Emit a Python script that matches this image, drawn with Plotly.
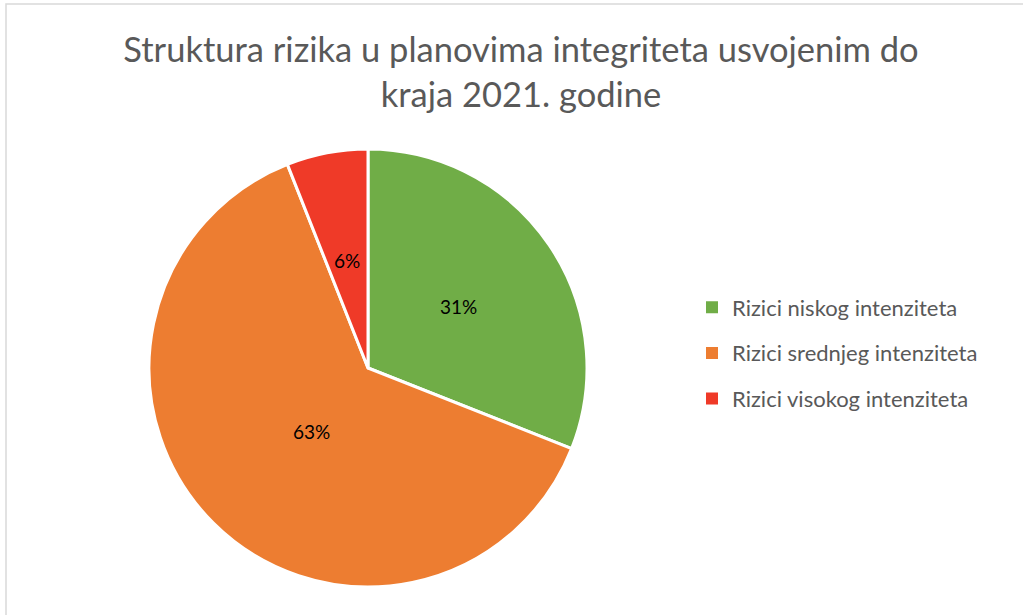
import math
import plotly.graph_objects as go

labels = ["Rizici niskog intenziteta", "Rizici srednjeg intenziteta", "Rizici visokog intenziteta"]
values = [31, 63, 6]
colors = ["#70AD47", "#ED7D31", "#EF3A28"]

W, H = 1023, 615
FONT = "Lato"


def px(x):
    return x / W


def py(y):
    return 1 - y / H


# pie placement (pixels of the reference)
cx, cy, r = 368, 368, 219

fig = go.Figure()

fig.add_trace(go.Pie(
    labels=labels,
    values=values,
    sort=False,
    direction="clockwise",
    rotation=0,
    marker=dict(colors=colors, line=dict(color="white", width=3)),
    textinfo="none",
    domain=dict(x=[px(cx - r), px(cx + r)], y=[py(cy + r), py(cy - r)]),
    showlegend=False,
    hoverinfo="label+percent",
))

# percentage labels at half radius, as the original places them
total = sum(values)
start = 0
annotations = []
for v in values:
    mid = (start + v / 2) / total * 2 * math.pi
    start += v
    annotations.append(dict(
        x=px(cx + 0.5 * r * math.sin(mid)), y=py(cy - 0.5 * r * math.cos(mid)),
        xref="paper", yref="paper", showarrow=False,
        text=f"{round(v / total * 100)}%",
        font=dict(family=FONT, size=19, color="black"),
    ))

# legend entries (dummy traces so the item spacing can be set)
for i, (lab, col) in enumerate(zip(labels, colors)):
    fig.add_trace(go.Scatter(
        x=[None], y=[None], mode="markers", name=lab,
        marker=dict(symbol="square", size=9, color=col),
        legendgroup=f"g{i}", showlegend=True,
    ))

fig.update_layout(
    width=W, height=H,
    margin=dict(l=0, r=0, t=0, b=0),
    paper_bgcolor="white",
    plot_bgcolor="white",
    xaxis=dict(visible=False),
    yaxis=dict(visible=False),
    title=dict(
        text="Struktura rizika u planovima integriteta usvojenim do<br>kraja 2021. godine",
        x=px(521), xanchor="center",
        y=py(62), yanchor="top",
        font=dict(family=FONT, size=34.5, color="#595959"),
    ),
    legend=dict(
        x=px(692), xanchor="left",
        y=py(353), yanchor="middle",
        font=dict(family=FONT, size=22, color="#595959"),
        tracegroupgap=14,
        itemsizing="constant",
        bgcolor="rgba(0,0,0,0)",
    ),
    annotations=annotations,
    shapes=[dict(
        type="path", xref="paper", yref="paper",
        path=f"M {px(6)} 0 L {px(6)} {py(4)} L 1 {py(4)}",
        line=dict(color="#D9D9D9", width=1.5),
    )],
)

fig.write_html("out.html", config={"displayModeBar": False},
               post_script="document.body.style.margin='0';")
